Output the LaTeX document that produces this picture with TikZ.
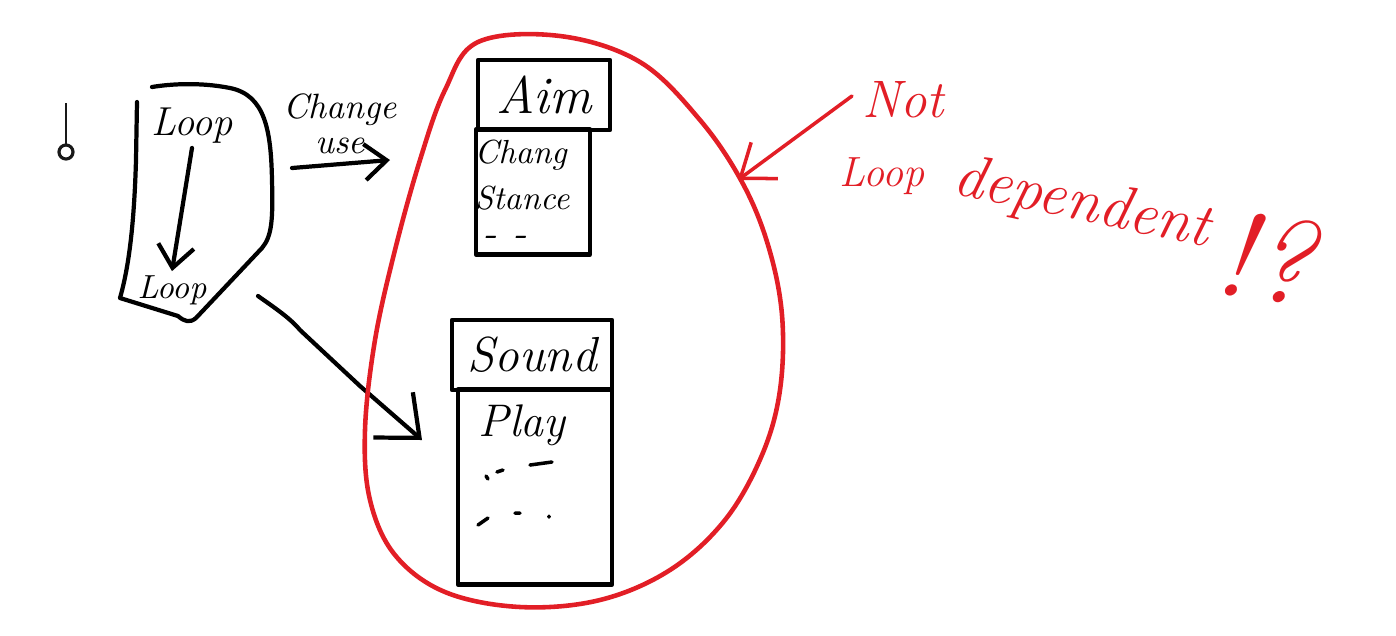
\documentclass[tikz,border=0pt]{standalone}
\usetikzlibrary{arrows.meta}
\definecolor{redpen}{RGB}{226,30,38}
\tikzset{
  pen/.style={line width=1.2pt, line cap=round, line join=round},
  redpen/.style={pen, draw=redpen, line width=1pt},
  hand/.style={font=\itshape\fontsize{12}{14}\selectfont, inner sep=1pt},
  redhand/.style={hand, text=redpen},
  barb/.style={-{Straight Barb[length=2.2mm,width=3.6mm]}},
}
\begin{document}
\begin{tikzpicture}[x=0.01cm,y=-0.01cm]
\useasboundingbox (0,0) rectangle (1396,635);

% pin mark
\draw[gray!20!black, line width=0.6pt] (66,103) -- (66,145);
\draw[gray!20!black, line width=0.9pt] (66,152) circle[radius=0.07cm];

% loop box
\draw[pen] (137,102) -- (136,160) .. controls (134,230) and (128,270) .. (120,298)
  -- (178,316) .. controls (185,322) and (190,323) .. (196,318) -- (262,248)
  .. controls (272,236) and (273,220) .. (272,180)
  .. controls (271,130) and (265,95) .. (230,88)
  .. controls (200,82) and (170,84) .. (152,87);
\node[hand, font=\itshape\fontsize{11.5}{14}\selectfont] (looptop) at (192,126) {Loop};
\node[hand, font=\itshape\fontsize{9.5}{12}\selectfont] (loopbot) at (172,290) {Loop};
\draw[pen, barb] (looptop.south) -- (loopbot.north);

% change use
\node[hand, align=center, font=\itshape\fontsize{10}{10}\selectfont] (chguse) at (340,124) {Change\\use};
\coordinate (cufrom) at (292,168);
\coordinate (cuto) at (390,160);
\draw[pen, barb] (cufrom) -- (cuto);

% aim box
\node[pen, draw, minimum width=1.32cm, minimum height=0.7cm, font=\itshape\fontsize{15}{17}\selectfont] (aimhead) at (544,95) {Aim};
\node[pen, draw, minimum width=1.14cm, minimum height=1.25cm] (aimbody) at (533,192) {};
\node[hand, align=left, font=\itshape\fontsize{9.5}{13}\selectfont] (aimtext) at (522,175) {Chang\\Stance};
\node[hand] (aimmore) at (505,241) {- -};

% sound box
\node[pen, draw, minimum width=1.6cm, minimum height=0.7cm, font=\itshape\fontsize{14}{16}\selectfont] (soundhead) at (532,355) {Sound};
\node[pen, draw, minimum width=1.54cm, minimum height=1.95cm] (soundbody) at (535,487) {};
\node[hand, font=\itshape\fontsize{13}{15}\selectfont] (playtext) at (522,425) {Play};
\draw[pen, line width=1pt] (486,476) -- (488,479) (497,472) -- (503,470) (530,465) -- (552,462);
\draw[pen, line width=1pt] (478,525) -- (488,518) (515,513) -- (520,513) (549,516) -- (549,517);

% loop to sound arrow
\coordinate (loopout) at (258,296);
\coordinate (playin) at (422,440);
\draw[pen, -{Straight Barb[length=3.5mm,width=6mm]}] (loopout) .. controls (275,308) and (290,318) .. (300,330) -- (360,386) -- (playin);

% red blob round aim and sound
\draw[redpen, line width=1.3pt] plot[smooth cycle, tension=0.6] coordinates {
  (478,42) (560,36) (640,62) (700,120) (742,182) (768,245) (782,315) (780,390)
  (762,455) (725,520) (670,570) (600,600) (520,607) (445,592) (395,555)
  (370,500) (365,430) (375,340) (395,250) (420,160) (445,90)};

% red note
\node[redhand, font=\itshape\fontsize{15}{17}\selectfont] (nottext) at (903,100) {Not};
\node[redhand, font=\itshape\fontsize{12}{14}\selectfont] (looptext) at (882,176) {Loop};
\node[redhand, font=\itshape\fontsize{17.5}{20}\selectfont, rotate=-12] (deptext) at (1082,205) {dependent};
\node[redhand, font=\itshape\fontsize{34}{36}\selectfont, rotate=-8] (quest) at (1265,258) {!?};
\coordinate (notfrom) at (852,96);
\coordinate (blobhit) at (738,180);
\draw[redpen, -{Straight Barb[length=3mm,width=4.5mm]}] (notfrom) -- (blobhit);
\end{tikzpicture}
\end{document}
